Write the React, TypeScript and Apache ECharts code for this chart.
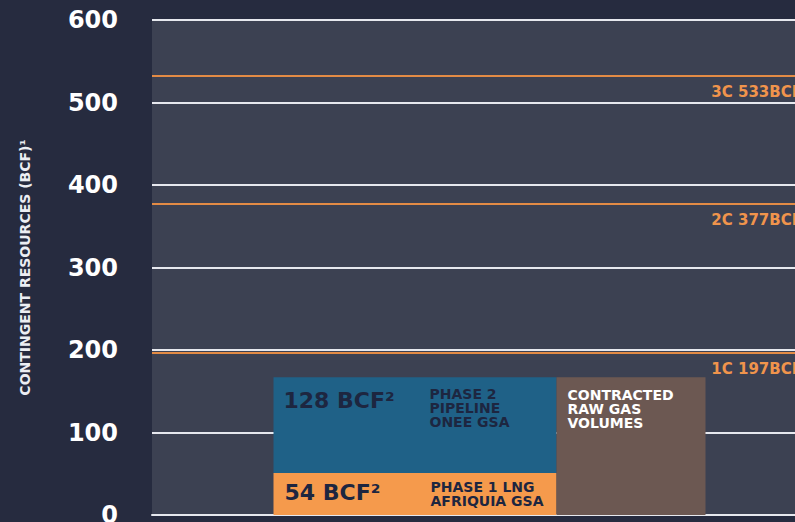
import React, { useEffect, useRef } from 'react';
import * as echarts from 'echarts';

// ---- data ----
const categories = ['Gas volumes'];
// drawn block heights (BCF, as plotted in the picture)
const phase1Lng = [51];
const phase2Pipeline = [116];
const contractedRaw = [167];
// figures printed on the blocks
const phase1Figure = 54;
const phase2Figure = 128;
const phase1Notes = ['PHASE 1 LNG', 'AFRIQUIA GSA'];
const phase2Notes = ['PHASE 2', 'PIPELINE', 'ONEE GSA'];
const contractedNotes = ['CONTRACTED', 'RAW GAS', 'VOLUMES'];
// contingent resource levels
const resourceNames = ['1C', '2C', '3C'];
const resourceLevels = [197, 377, 533];
const yMin = 0;
const yMax = 600;
const yStep = 100;
const yAxisTitle = 'CONTINGENT RESOURCES (BCF)¹';

const FONT = 'DejaVu Sans';
const DARK = '#1d2640';

function blockLabel(figure: number, notes: string[]) {
  const lines = notes.map((n, i) =>
    i === 0 ? `{big|${figure} BCF²}{s|${n}}` : `{t|${n}}`
  );
  return lines.join('\n');
}

export default function App() {
  const ref = useRef<HTMLDivElement>(null);
  useEffect(() => {
    if (!ref.current) return;
    const chart = echarts.init(ref.current, null, { renderer: 'svg' });
    const small = {
      fontFamily: FONT,
      fontSize: 14,
      fontWeight: 'bold',
      color: DARK,
      lineHeight: 14,
    };
    const richStyles = {
      big: {
        fontFamily: FONT,
        fontSize: 22,
        fontWeight: 'bold',
        color: DARK,
        width: 146,
        lineHeight: 14,
        verticalAlign: 'top',
        padding: [2, 0, 0, 0],
      },
      s: small,
      t: { ...small, padding: [0, 0, 0, 146] },
    };
    chart.setOption({
      animation: false,
      backgroundColor: '#262b3f',
      grid: {
        left: 152,
        right: 0,
        top: 20,
        bottom: 7,
        outerBoundsMode: 'none',
        containLabel: false,
        show: true,
        backgroundColor: '#3c4152',
        borderWidth: 0,
      },
      xAxis: {
        type: 'category',
        data: categories,
        axisLine: { show: true, lineStyle: { color: '#e6e8ee', width: 2 } },
        axisTick: { show: false },
        axisLabel: { show: false },
        splitLine: { show: false },
      },
      yAxis: {
        type: 'value',
        min: yMin,
        max: yMax,
        interval: yStep,
        name: yAxisTitle,
        nameLocation: 'middle',
        nameRotate: 90,
        nameGap: 120,
        nameTextStyle: {
          color: '#eceef3',
          fontFamily: FONT,
          fontWeight: 'bold',
          fontSize: 14,
        },
        axisLine: { show: false },
        axisTick: { show: false },
        axisLabel: {
          margin: 34,
          color: '#ffffff',
          fontFamily: FONT,
          fontWeight: 'bold',
          fontSize: 24,
        },
        splitLine: { lineStyle: { color: '#e6e8ee', width: 2 } },
      },
      series: [
        {
          type: 'bar',
          name: 'Phase 1 LNG',
          stack: 'gsa',
          data: phase1Lng,
          barWidth: 283,
          barGap: '0%',
          itemStyle: { color: '#f59a4c' },
          label: {
            show: true,
            position: 'insideLeft',
            distance: 11,
            formatter: () => blockLabel(phase1Figure, phase1Notes),
            rich: richStyles,
          },
        },
        {
          type: 'bar',
          name: 'Phase 2 pipeline',
          stack: 'gsa',
          data: phase2Pipeline,
          barWidth: 283,
          barGap: '0%',
          itemStyle: { color: '#1f6187' },
          label: {
            show: true,
            position: 'insideTopLeft',
            distance: 10,
            formatter: () => blockLabel(phase2Figure, phase2Notes),
            rich: richStyles,
          },
        },
        {
          type: 'bar',
          name: 'Contracted raw gas volumes',
          data: contractedRaw,
          barWidth: 149,
          barGap: '0%',
          itemStyle: { color: '#6c5852' },
          label: {
            show: true,
            position: 'insideTopLeft',
            distance: 11,
            formatter: () => contractedNotes.join('\n'),
            color: '#ffffff',
            fontFamily: FONT,
            fontWeight: 'bold',
            fontSize: 14,
            lineHeight: 14,
          },
          markLine: {
            silent: true,
            symbol: ['none', 'none'],
            lineStyle: { color: '#e38b45', width: 2, type: 'solid' },
            label: {
              show: true,
              position: 'insideEndBottom',
              distance: [25, 9],
              color: '#f0944c',
              fontFamily: FONT,
              fontWeight: 'bold',
              fontSize: 15,
              formatter: (p: any) => `${p.name} ${p.value}BCF`,
            },
            data: resourceLevels.map((v, i) => ({ name: resourceNames[i], yAxis: v })),
          },
        },
      ],
    });
    return () => chart.dispose();
  }, []);
  return (
    <div
      style={{
        position: 'fixed',
        left: 0,
        top: 0,
        width: 795,
        height: 522,
        overflow: 'hidden',
        background: '#262b3f',
      }}
    >
      <div ref={ref} style={{ width: 827, height: 522 }} />
    </div>
  );
}
